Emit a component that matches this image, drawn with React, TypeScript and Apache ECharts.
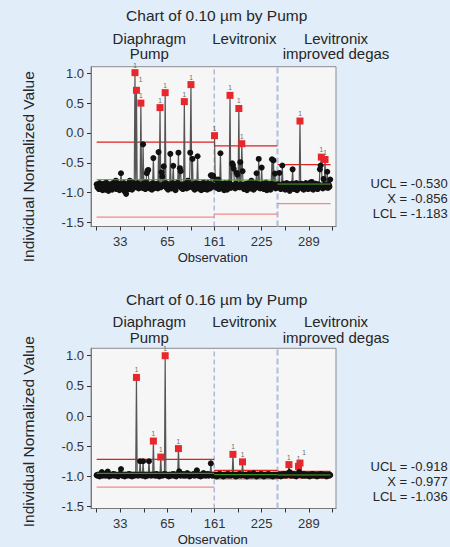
import React, { useEffect, useRef } from "react";
import * as echarts from "echarts";

// ---------- shared labels ----------
const stageNames = [["Diaphragm", "Pump"], ["Levitronix"], ["Levitronix", "improved degas"]];
const xTickLabels = ["33", "65", "161", "225", "289"];
const xLabelAt = [32, 96, 160, 224, 288];
const xTickAt = [0, 32, 64, 96, 128, 160, 192, 224, 256, 288, 320];
const yTicks = [-1.5, -1, -0.5, 0, 0.5, 1];

// ---------- Chart of 0.10 µm ----------
const diaphragm010 = [
  -0.86, -0.91, -0.88, -0.94, -0.84, -0.9, -0.93, -0.87, -0.96, -0.89, -0.85, -0.92, -0.95, -0.83, -0.9, -0.88, -0.97, -0.91, -0.86, -0.93,
  -0.89, -0.95, -0.84, -0.92, -0.87, -0.9, -0.8, -0.94, -0.88, -0.91, -0.85, -0.96, -0.89, -0.675, -0.86, -0.93, -0.9, -0.84, -0.98, -0.92,
  -1.02, -0.88, -0.91, -0.85, -0.94, -0.8, -0.9, -0.87, -0.95, -0.83, -0.92, -0.89, 1.01, -0.86, 0.715, -0.91, -0.84, -0.93, -0.88, -0.9,
  0.5, -0.87, -0.92, -0.19, -0.85, -0.9, -0.94, -0.82, -0.675, -0.635, -0.62, -0.88, -0.93, -0.86, -0.91, -0.95, -0.84, -0.42, -0.89, -0.92,
  -0.87, -0.9, -0.85, -0.93, -0.32, -0.88, 0.425, -0.91, -0.66, -0.73, -0.86, -0.56, -0.89, 0.675, -0.84, -0.92, -0.88, -0.95, -0.86, -0.9,
  -0.35, -0.87, -0.93, -0.84, -0.55, -0.91, -0.88, -0.96, -0.85, -0.9, -0.83, -0.33, -0.89, -0.59, -0.64, -0.92, -0.86, -0.94, -0.88, 0.525,
  -0.9, -0.85, -0.93, -0.87, -0.8, -0.91, -0.88, -0.33, 0.81, -0.86, -0.435, -0.92, -0.89, -0.95, -0.84, -0.9, -0.87, -0.39, -0.93, -0.88,
  -0.85, -0.91, -0.96, -0.86, -0.9, -0.83, -0.94, -0.88, -0.92, -0.87, -0.95, -0.84, -0.9, -0.89, -0.93, -0.71, -0.86, -0.71, -0.72, -0.9,
];
const levitronix010 = [
  -0.045, -0.88, -0.78, -0.92, -0.86, -0.78, -0.94, -0.89, -0.34, -0.9, -0.85, -0.93, -0.87, -0.96, -0.84, -0.91, -0.88, -0.95, -0.86, -0.9,
  -0.83, 0.63, -0.92, -0.87, -0.51, -0.54, -0.6, -0.89, -0.93, -0.85, -0.67, -0.7, -0.88, 0.41, -0.91, -0.49, -0.86, -0.18, -0.64, -0.9,
  -0.94, -0.87, -0.92, -0.85, -0.96, -0.89, -0.84, -0.91, -0.88, -0.93, -0.8, -0.9, -0.86, -0.95, -0.87, -0.92, -0.84, -0.675, -0.89, -0.91,
  -0.435, -0.86, -0.93, -0.88, -0.58, -0.9, -0.85, -0.94, -0.87, -0.91, -0.83, -0.96, -0.89, -0.86, -0.92, -0.88, -0.95, -0.85, -0.44, -0.9,
  -0.46, -0.87, -0.68, -0.93, -0.89, -0.86,
];
const degas010 = [
  -0.91, -0.86, -0.67, -0.9, -0.94, -0.87, -0.545, -0.92, -0.85, -0.89, -0.95, -0.88, -0.84, -0.93, -0.9, -0.86, -0.97, -0.89, -0.92, -0.85,
  -0.61, -0.9, -0.94, -0.87, -0.91, -0.84, -0.96, -0.88, -0.92, -0.86, 0.2, -0.9, -0.85, -0.93, -0.89, -0.95, -0.87, -0.91, -0.84, -0.92,
  -0.88, -0.94, -0.86, -0.9, -0.83, -0.93, -0.82, -0.89, -0.95, -0.87, -0.91, -0.85, -0.92, -0.88, -0.94, -0.86, -0.9, -0.61, -0.545, -0.405,
  -0.89, -0.93, -0.77, -0.87, -0.445, -0.91, -0.88, -0.65, -0.92, -0.86, -0.9, -0.78,
];
const ucl010 = [-0.155, -0.217, -0.53];
const cl010 = [-0.783, -0.789, -0.856];
const lcl010 = [-1.41, -1.36, -1.183];
const stats010 = ["UCL = -0.530", "X = -0.856", "LCL = -1.183"];

// ---------- Chart of 0.16 µm ----------
const diaphragm016 = [
  -0.98, -0.99, -0.97, -0.98, -1.0, -0.97, -0.98, -0.93, -0.99, -0.97, -0.98, -0.96, -0.99, -0.98, -0.97, -0.92, -0.98, -1.0, -0.97, -0.98,
  -0.99, -0.97, -0.98, -0.96, -0.99, -0.98, -0.97, -0.99, -0.98, -1.0, -0.97, -0.98, -0.96, -0.88, -0.98, -0.99, -0.97, -0.98, -1.0, -0.97,
  -0.98, -0.99, -0.97, -0.98, -0.96, -0.99, -0.98, -0.97, -1.0, -0.98, -0.97, -0.99, -0.98, -0.97, 0.64, -0.98, -0.99, -0.97, -0.98, -0.75,
  -0.98, -0.97, -0.99, -0.75, -0.98, -0.97, -1.0, -0.98, -0.97, -0.99, -0.98, -0.75, -0.97, -0.98, -0.99, -0.97, -0.98, -0.415, -0.97, -0.99,
  -0.98, -0.96, -0.99, -0.97, -0.98, -1.0, -0.97, -0.68, -0.98, -0.99, -0.97, -0.98, -0.96, 1.0, -0.98, -0.97, -0.99, -0.98, -1.0, -0.97,
  -0.98, -0.99, -0.97, -0.98, -0.96, -0.99, -0.98, -0.97, -1.0, -0.98, -0.97, -0.54, -0.915, -0.98, -0.99, -0.97, -0.98, -0.96, -0.99, -0.98,
  -0.97, -0.99, -0.98, -0.945, -0.97, -0.98, -1.0, -0.97, -0.99, -0.98, -0.97, -0.98, -0.96, -0.99, -0.98, -0.97, -0.9, -0.98, -0.99, -0.97,
  -0.98, -1.0, -0.97, -0.98, -0.99, -0.945, -0.97, -0.98, -0.99, -0.97, -0.98, -0.96, -0.99, -0.98, -0.97, -0.785, -0.98, -0.99, -0.97, -0.98,
];
const levitronix016 = [
  -0.99, -0.97, -0.98, -1.0, -0.97, -0.98, -0.99, -0.96, -0.98, -0.97, -0.99, -0.98, -1.0, -0.97, -0.98, -0.99, -0.97, -0.98, -0.96, -0.99,
  -0.98, -0.97, -0.99, -0.98, -0.97, -0.635, -0.98, -0.99, -0.97, -1.0, -0.98, -0.97, -0.99, -0.98, -0.96, -0.97, -0.99, -0.98, -0.76, -0.97,
  -0.98, -0.99, -0.97, -0.98, -1.0, -0.97, -0.98, -0.96, -0.99, -0.98, -0.97, -0.99, -0.98, -0.95, -0.97, -0.99, -0.98, -1.0, -0.97, -0.98,
  -0.99, -0.97, -0.98, -0.96, -0.99, -0.98, -0.97, -1.0, -0.98, -0.97, -0.99, -0.98, -0.97, -0.96, -0.99, -0.98, -0.97, -0.99, -0.98, -1.0,
  -0.97, -0.98, -0.99, -0.97, -0.98, -0.99,
];
const degas016 = [
  -0.98, -0.99, -0.97, -0.98, -1.0, -0.97, -0.98, -0.99, -0.96, -0.98, -0.97, -0.99, -0.98, -0.97, -0.95, -0.805, -0.93, -0.98, -0.99, -0.97,
  -0.98, -0.96, -0.99, -0.98, -0.97, -1.0, -0.98, -0.97, -0.835, -0.925, -0.78, -0.98, -0.97, -0.99, -0.98, -0.96, -0.99, -0.98, -0.97, -0.98,
  -0.99, -0.97, -0.98, -1.0, -0.97, -0.98, -0.99, -0.96, -0.98, -0.97, -0.99, -0.98, -0.97, -1.0, -0.98, -0.97, -0.99, -0.98, -0.96, -0.98,
  -0.99, -0.97, -0.98, -0.97, -0.99, -0.98, -1.0, -0.97, -0.98, -0.99, -0.97, -0.98,
];
const ucl016 = [-0.72, -0.9, -0.918];
const cl016 = [-0.95, -0.972, -0.977];
const lcl016 = [-1.18, -1.045, -1.036];
const stats016 = ["UCL = -0.918", "X = -0.977", "LCL = -1.036"];

const titles = ["Chart of 0.10 µm by Pump", "Chart of 0.16 µm by Pump"];

// ---------- layout ----------
const FONT = "'Liberation Sans', Arial, Helvetica, sans-serif";
const TXT = "#262626";
const GRID_LEFT = 91;
const GRID_WIDTH = 245;
const X_MIN = -7.7;
const X_MAX = 324.9;

const panels = [
  {
    stages: [diaphragm010, levitronix010, degas010],
    ucl: ucl010, cl: cl010, lcl: lcl010, stats: stats010,
    top: 66.7, height: 159.8, yMin: -1.567, yMax: 1.11,
    titleY: 15, stageY: 38, statsY: 183, obsY: 257, nameY: 166.7,
  },
  {
    stages: [diaphragm016, levitronix016, degas016],
    ucl: ucl016, cl: cl016, lcl: lcl016, stats: stats016,
    top: 348.3, height: 160.2, yMin: -1.533, yMax: 1.123,
    titleY: 299.3, stageY: 321.7, statsY: 466, obsY: 539.3, nameY: 431.7,
  },
];
const stageLabelX = [149.3, 244.3, 336];

function text(str: string, x: number, y: number, size: number, align = "center", extra: any = {}) {
  return {
    type: "text",
    x,
    y,
    silent: true,
    ...extra,
    style: {
      text: str,
      fill: TXT,
      fontSize: size,
      fontFamily: FONT,
      align,
      textAlign: align,
      verticalAlign: "middle",
      textVerticalAlign: "middle",
    },
  };
}

function buildOption() {
  const grid: any[] = [];
  const xAxis: any[] = [];
  const yAxis: any[] = [];
  const series: any[] = [];
  const graphic: any[] = [];

  panels.forEach((p, g) => {
    grid.push({
      left: GRID_LEFT,
      width: GRID_WIDTH,
      top: p.top,
      height: p.height,
      show: true,
      backgroundColor: "#f6f6f6",
      borderColor: "#8c8c8c",
      borderWidth: 1,
    });
    xAxis.push({
      type: "value",
      gridIndex: g,
      min: X_MIN,
      max: X_MAX,
      splitLine: { show: false },
      axisLine: { show: true, onZero: false, lineStyle: { color: "#7a7a7a" } },
      axisTick: { show: true, customValues: xTickAt, length: 4, lineStyle: { color: "#333" } },
      axisLabel: {
        customValues: xLabelAt,
        formatter: (v: number) => {
          const k = xLabelAt.indexOf(Math.round(v));
          return k >= 0 ? xTickLabels[k] : "";
        },
        fontSize: 13,
        fontFamily: FONT,
        color: "#333",
        margin: 8,
      },
    });
    yAxis.push({
      type: "value",
      gridIndex: g,
      min: p.yMin,
      max: p.yMax,
      splitLine: { show: false },
      axisLine: { show: true, onZero: false, lineStyle: { color: "#7a7a7a" } },
      axisTick: { show: true, customValues: yTicks, length: 4, lineStyle: { color: "#333" } },
      axisLabel: {
        customValues: yTicks,
        formatter: (v: number) => v.toFixed(1),
        fontSize: 13,
        fontFamily: FONT,
        color: "#333",
        margin: 7,
      },
    });

    // stage boundaries (dashed)
    let offset = 0;
    const bounds: number[] = [];
    p.stages.forEach((vals, s) => {
      if (s > 0) bounds.push(offset - 0.5);
      offset += vals.length;
    });
    bounds.forEach((b, k) => {
      series.push({
        type: "line",
        xAxisIndex: g,
        yAxisIndex: g,
        silent: true,
        symbol: "none",
        z: 1,
        data: [[b, p.yMin], [b, p.yMax]],
        lineStyle: k === 0
          ? { color: "#8797cf", width: 1, type: [5, 3] }
          : { color: "#b3c0e3", width: 2.2, type: [6, 3] },
      });
    });

    offset = 0;
    p.stages.forEach((vals, s) => {
      const ucl = p.ucl[s];
      let lastOut = -100;
      const data = vals.map((v, k) => {
        if (v > ucl) {
          const crowded = k - lastOut <= 3;
          lastOut = k;
          return {
            value: [offset + k, v],
            symbol: "rect",
            symbolSize: 7,
            itemStyle: { color: "#e8262b" },
            label: {
              show: true,
              position: "top",
              distance: 0.5,
              offset: crowded ? [4, -3] : [0, 0],
              formatter: "1",
              fontSize: 6.5,
              fontFamily: FONT,
              color: "#666",
            },
          };
        }
        return [offset + k, v];
      });
      const x0 = s === 0 ? offset : offset - 0.5;
      const x1 = offset + vals.length - 0.5;
      // UCL / LCL
      series.push({
        type: "line", xAxisIndex: g, yAxisIndex: g, silent: true, symbol: "none", z: 2,
        data: [[x0, p.ucl[s]], [x1, p.ucl[s]]],
        lineStyle: { color: "#e01f1f", width: 1.2 },
      });
      series.push({
        type: "line", xAxisIndex: g, yAxisIndex: g, silent: true, symbol: "none", z: 2,
        data: [[x0, p.lcl[s]], [x1, p.lcl[s]]],
        lineStyle: { color: "#f08a8a", width: 1.2 },
      });
      // points
      series.push({
        type: "line",
        xAxisIndex: g,
        yAxisIndex: g,
        silent: true,
        data,
        symbol: "circle",
        symbolSize: 6,
        showSymbol: true,
        showAllSymbol: true,
        z: 3,
        itemStyle: { color: "#111" },
        lineStyle: { color: "#555", width: 1.2 },
      });
      // center line
      series.push({
        type: "line", xAxisIndex: g, yAxisIndex: g, silent: true, symbol: "none", z: 4,
        data: [[x0, p.cl[s]], [x1, p.cl[s]]],
        lineStyle: { color: "#4fa02a", width: 1 },
      });
      offset += vals.length;
    });

    // texts
    graphic.push(text(titles[g], 216.7, p.titleY, 15.5));
    stageNames.forEach((lines, s) => {
      lines.forEach((ln, li) => {
        graphic.push(text(ln, stageLabelX[s], p.stageY + li * 15.5, 15));
      });
    });
    graphic.push(text("Individual Normalized Value", 28.3, p.nameY, 15.5, "center", { rotation: Math.PI / 2 }));
    graphic.push(text("Observation", 212.7, p.obsY, 13));
    p.stats.forEach((st, k) => {
      graphic.push(text(st, 447.7, p.statsY + k * 15, 13, "right"));
    });
  });

  return {
    animation: false,
    backgroundColor: "#e1edf9",
    grid,
    xAxis,
    yAxis,
    series,
    graphic,
  };
}

export default function App() {
  const ref = useRef<HTMLDivElement>(null);
  useEffect(() => {
    if (!ref.current) return;
    const chart = echarts.init(ref.current, undefined, { renderer: "svg" });
    chart.setOption(buildOption() as any);
    return () => chart.dispose();
  }, []);
  return (
    <div
      ref={ref}
      style={{ position: "absolute", left: 0, top: 0, width: 450, height: 547 }}
    />
  );
}
